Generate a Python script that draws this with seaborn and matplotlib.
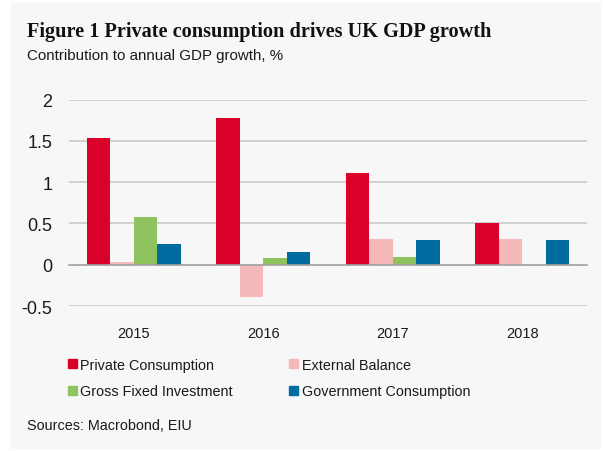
import matplotlib
matplotlib.use("Agg")
import matplotlib.pyplot as plt
import matplotlib.patches as mpatches
from matplotlib.ticker import FixedLocator
import seaborn as sns
import pandas as pd

years = ["2015", "2016", "2017", "2018"]
series = ["Private Consumption", "External Balance", "Gross Fixed Investment", "Government Consumption"]
private_consumption = [1.54, 1.78, 1.11, 0.50]
external_balance = [0.03, -0.39, 0.31, 0.31]
gross_fixed_investment = [0.58, 0.08, 0.09, 0.0]
government_consumption = [0.25, 0.16, 0.30, 0.30]
colors = ["#d9002a", "#f5b9b9", "#8fc35f", "#006b9f"]
yticks = [-0.5, 0, 0.5, 1, 1.5, 2]
ytick_labels = ["-0.5", "0", "0.5", "1", "1.5", "2"]

rows = []
for s, vals in zip(series, [private_consumption, external_balance, gross_fixed_investment, government_consumption]):
    for y, v in zip(years, vals):
        rows.append({"Year": y, "Series": s, "Value": v})
df = pd.DataFrame(rows)

sns.set_theme(style="white")
plt.rcParams["font.family"] = ["Liberation Sans", "DejaVu Sans"]

BG = "#f7f7f7"
TXT = "#1a1a1a"
fig = plt.figure(figsize=(6.03, 4.52), dpi=100)
fig.patch.set_facecolor("white")
bgrect = mpatches.Rectangle((11 / 603, 1 - 450 / 452), 590 / 603, 446 / 452,
                            transform=fig.transFigure, facecolor=BG, edgecolor="none", zorder=-10)
fig.patches.append(bgrect)

ax = fig.add_axes([69 / 603, 1 - 307 / 452, (587 - 69) / 603, (307 - 100.7) / 452])
ax.patch.set_visible(False)

sns.barplot(data=df, x="Year", y="Value", hue="Series", hue_order=series, order=years,
            palette=colors, width=0.727, linewidth=0, saturation=1, ax=ax, legend=False, zorder=3)

ax.set_ylim(-0.5, 2.0)
ax.set_xlim(-0.5, 3.5)
ax.set_yticks(yticks)
ax.set_yticklabels(ytick_labels)
for y in yticks:
    if y != 0:
        ax.axhline(y, color="#d0d0d0", lw=1.4, zorder=1)

for s in ["top", "right", "left"]:
    ax.spines[s].set_visible(False)
ax.spines["bottom"].set_position(("data", 0))
ax.spines["bottom"].set_color("#a0a0a0")
ax.spines["bottom"].set_linewidth(1.2)
ax.spines["bottom"].set_zorder(4)
ax.xaxis.set_minor_locator(FixedLocator([-0.5, 0.5, 1.5, 2.5, 3.5]))
ax.tick_params(axis="x", which="minor", length=6, width=1.2, color="#a0a0a0", direction="out")
ax.tick_params(axis="x", which="major", length=0, pad=44, labelsize=10.5, labelcolor=TXT)
ax.tick_params(axis="y", length=0, pad=12, labelsize=13, labelcolor=TXT)
ax.set_xlabel("")
ax.set_ylabel("")

fig.text(27 / 603, 1 - 32 / 452, "Figure 1 Private consumption drives UK GDP growth",
         family=["Liberation Serif", "DejaVu Serif"], weight="bold", fontsize=14.6,
         va="center", ha="left", color="#111111")
fig.text(27 / 603, 1 - 56 / 452, "Contribution to annual GDP growth, %",
         fontsize=10.9, va="center", ha="left", color=TXT)
fig.text(27 / 603, 1 - 426 / 452, "Sources: Macrobond, EIU",
         fontsize=10.4, va="center", ha="left", color=TXT)

hmap = {s: mpatches.Patch(color=c, label=s) for c, s in zip(colors, series)}
order = ["Private Consumption", "Gross Fixed Investment", "External Balance", "Government Consumption"]
handles = [hmap[s] for s in order]
leg = fig.legend(handles=handles, ncol=2, loc="upper left",
                 bbox_to_anchor=(68 / 603, 1 - 359 / 452), frameon=False,
                 fontsize=10.4, handlelength=0.6, handleheight=0.6, handletextpad=0.25,
                 columnspacing=3.9, labelspacing=0.85, borderaxespad=0, borderpad=0)
for t in leg.get_texts():
    t.set_color(TXT)

fig.savefig("out.png", dpi=100, facecolor="white")
